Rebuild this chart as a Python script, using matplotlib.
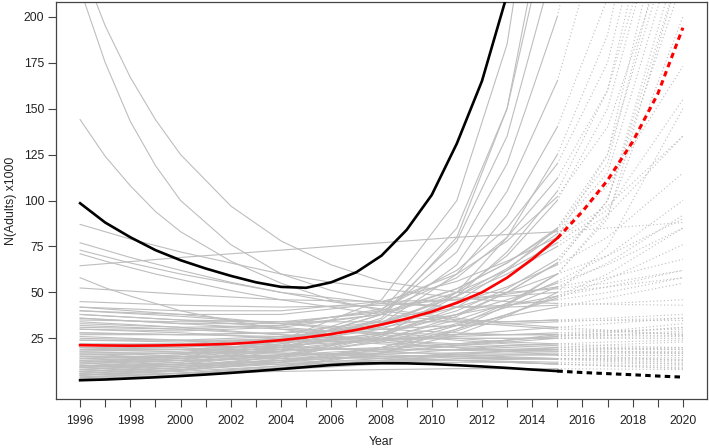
import matplotlib
matplotlib.use("Agg")
import matplotlib.pyplot as plt

plt.rcParams['font.family'] = ['Liberation Sans', 'DejaVu Sans']

# ---- data (N adults x1000) ----
years_obs = list(range(1996, 2016))
years_proj = list(range(2015, 2021))

mean_obs = [21.3, 21.1, 21.0, 21.1, 21.3, 21.6, 22.0, 22.9, 24.0, 25.5, 27.3, 29.6, 32.5,
            35.7, 39.5, 44.3, 50.0, 58.0, 68.0, 79.5]
mean_proj = [79.5, 94.0, 111.0, 132.0, 158.0, 194.0]

upper_obs = [98.5, 88.0, 80.0, 73.0, 67.5, 63.0, 59.0, 55.5, 53.0, 52.5, 55.5, 61.0, 70.0,
             84.0, 103.0, 131.0, 165.0, 212.0, 275.0, 350.0]
upper_proj = [350.0, 440.0, 560.0, 700.0, 880.0, 1100.0]

lower_obs = [2.2, 2.6, 3.2, 3.8, 4.5, 5.3, 6.2, 7.2, 8.3, 9.4, 10.5, 11.2, 11.5,
             11.4, 11.0, 10.4, 9.7, 8.9, 8.0, 7.2]
lower_proj = [7.2, 6.4, 5.8, 5.2, 4.5, 3.9]

# individual trajectories (bulk): values at these years
traj_years = [1996, 2000, 2004, 2008, 2011, 2013, 2015, 2017, 2020]
trajectories = [
    [3, 5, 8, 11, 12, 12, 11, 10.5, 10],
    [4, 6, 9, 12, 14, 14, 14, 14, 13.5],
    [5, 7, 10, 13, 15, 16, 16, 16, 16],
    [6, 8, 11, 14, 17, 18, 19, 19.5, 20],
    [7, 9, 12, 16, 19, 21, 22, 23, 24],
    [3.5, 6, 9, 13, 16, 18, 20, 21.5, 23],
    [8, 10, 13, 17, 21, 24, 26, 28, 31],
    [9, 11, 13, 15, 16, 16, 16, 16, 16],
    [10, 11, 12, 13, 13, 12.5, 12, 11.5, 11],
    [11, 13, 15, 18, 21, 23, 25, 26.5, 29],
    [12, 13, 14, 15, 15, 14.5, 14, 13.5, 13],
    [13, 14, 16, 19, 22, 24, 27, 29, 33],
    [14, 15, 16, 17, 17, 17, 17, 17, 17],
    [15, 15, 15, 14, 13, 12, 11, 10, 9],
    [16, 17, 18, 20, 22, 24, 26, 28, 31],
    [17, 17, 17, 16, 15, 14, 13.5, 12.5, 11],
    [18, 19, 21, 24, 27, 29, 31, 33, 36],
    [19, 19, 19, 19, 19, 19, 19, 19, 19],
    [20, 19, 17, 15, 13, 12, 11, 10, 8.5],
    [22, 21, 20, 19, 18.5, 18, 18, 18, 18],
    [24, 24, 24, 25, 26, 27, 28, 29, 30],
    [26, 24, 21, 18, 16, 15, 14, 13, 12],
    [28, 27, 26, 25, 25, 25, 25, 25.5, 26],
    [30, 28, 25, 22, 20, 19, 18, 17.5, 17],
    [32, 30, 27, 24, 22, 21, 20, 19.5, 19],
    [34, 31, 27, 23, 20, 18, 16, 15, 13],
    [36, 33, 30, 28, 27, 27, 27, 27, 28],
    [38, 35, 31, 27, 24, 22, 21, 20, 19],
    [40, 37, 33, 30, 28, 27, 27, 27, 27],
    [42, 38, 33, 28, 25, 23, 22, 21, 20],
    [5, 6, 7, 8, 8.5, 8.5, 8.5, 8.3, 8],
    [9.5, 10, 11, 12, 13, 13.5, 14, 14.3, 14.5],
    [21, 22, 23, 24, 25, 25, 25, 25, 25],
    [27, 27, 28, 30, 32, 33, 34, 35, 36],
    [35, 34, 34, 34, 34, 34, 35, 35, 35],
    [4, 6, 10, 17, 27, 37, 50, 75, 150],
    [5, 7.5, 12, 20, 32, 44, 60, 92, 200],
    [6, 8, 12, 19, 29, 38, 48, 60, 85],
    [7, 10, 15, 24, 37, 50, 66, 100, 230],
    [8, 11, 16, 26, 42, 58, 80, 125, 300],
    [10, 12, 16, 23, 33, 42, 53, 66, 92],
    [12, 14, 18, 25, 35, 44, 56, 70, 100],
    [14, 16, 20, 28, 40, 52, 68, 100, 220],
    [16, 17, 20, 27, 38, 50, 66, 100, 240],
    [18, 19, 22, 30, 45, 62, 85, 125, 260],
    [20, 20, 23, 32, 50, 70, 100, 150, 300],
    [6, 9, 15, 27, 48, 72, 105, 160, 330],
    [5, 8, 14, 26, 50, 80, 125, 190, 380],
    [8, 11, 18, 33, 60, 92, 140, 210, 420],
    [10, 13, 20, 35, 65, 105, 165, 260, 500],
    [13, 15, 22, 38, 72, 120, 200, 320, 600],
    [11, 14, 21, 38, 78, 135, 235, 380, 700],
    [15, 17, 23, 40, 85, 150, 270, 450, 900],
    [9, 12, 19, 36, 80, 150, 290, 480, 950],
    [22, 22, 25, 34, 48, 60, 75, 92, 135],
    [25, 24, 26, 32, 42, 50, 60, 70, 90],
    [28, 27, 28, 34, 44, 53, 65, 80, 115],
    [30, 29, 31, 38, 52, 66, 84, 115, 250],
    [24, 23, 25, 33, 48, 63, 82, 108, 173],
    [33, 31, 32, 38, 50, 62, 77, 95, 155],
    [38, 35, 34, 39, 52, 66, 85, 120, 280],
    [42, 40, 40, 45, 56, 67, 80, 97, 135],
    [3, 5, 9, 17, 30, 43, 60, 90, 230],
    [7, 9, 13, 20, 30, 38, 47, 57, 76],
    [17, 18, 21, 28, 38, 46, 55, 65, 85],
    [19, 21, 25, 31, 38, 43, 48, 53, 62],
    [12, 15, 19, 25, 32, 37, 42, 47, 55],
    [64.5, 69, 73, 77, 80, 81.5, 83, 85, 88],
    [52.4, 49, 46, 45, 46, 48, 50, 53, 58],
    [45, 43, 42, 43, 46, 49, 53, 58, 68],
    [40, 38, 38, 44, 60, 78, 102, 140, 260],
    [36, 33, 33, 40, 58, 80, 112, 160, 300],
    [31, 30, 32, 41, 62, 85, 120, 175, 340],
    [14, 16, 24, 46, 100, 185, 360, 700, 1500],
]

# trajectories starting high (finer early sampling)
high_years = [1996, 1997, 1998, 1999, 2000, 2002, 2004, 2006, 2008, 2011, 2013, 2015, 2017, 2020]
high_trajectories = [
    [87, 83, 79, 75.5, 72, 66, 60, 55.5, 52, 47, 45, 44, 43.5, 43],
    [77, 73, 69, 65.5, 62, 55.5, 50, 45, 41, 36, 33, 31, 29.5, 27],
    [73, 69.5, 66, 63, 60, 55, 50, 47, 44, 42, 42, 43, 44, 46],
    [71, 67, 63.5, 60, 57, 51, 46, 42, 38, 34, 32, 30, 29, 27],
    [58, 52.5, 48, 44, 40, 34.5, 30, 26.5, 24, 21, 20, 19, 18, 17],
    [215, 175, 143, 119, 100, 76, 60, 51, 45, 42, 43, 46, 50, 58],
    [230, 195, 167, 144, 125, 97, 78, 65, 56, 50, 50, 52, 55, 62],
    [144, 124, 108, 94, 83, 67, 55, 46, 40, 35, 34, 35, 36, 38],
]

x_ticks = list(range(1996, 2021))
x_labels = [str(y) if y % 2 == 0 else '' for y in x_ticks]
y_ticks = [25, 50, 75, 100, 125, 150, 175, 200]

# ---- figure ----
fig = plt.figure(figsize=(7.09, 4.48), dpi=100)
ax = fig.add_axes([56 / 709, 1 - 399 / 448, (707 - 56) / 709, (399 - 2) / 448])

grey = '#bebebe'
dots = (0, (1, 2.2))


def draw_traj(yrs, vals):
    k = yrs.index(2015)
    ax.plot(yrs[:k + 1], vals[:k + 1], color=grey, lw=0.8, zorder=1)
    ax.plot(yrs[k:], vals[k:], color=grey, lw=0.8, linestyle=dots, zorder=1)


for tr in trajectories:
    draw_traj(traj_years, tr)
for tr in high_trajectories:
    draw_traj(high_years, tr)

dash = (0, (1.8, 1.4))
ax.plot(years_obs, mean_obs, color='red', lw=1.9, zorder=3)
ax.plot(years_proj, mean_proj, color='red', lw=2.2, linestyle=dash, zorder=3)
ax.plot(years_obs, upper_obs, color='black', lw=1.9, zorder=3)
ax.plot(years_proj, upper_proj, color='black', lw=2.2, linestyle=dash, zorder=3)
ax.plot(years_obs, lower_obs, color='black', lw=1.9, zorder=3)
ax.plot(years_proj, lower_proj, color='black', lw=2.2, linestyle=dash, zorder=3)

ax.set_xlim(1995.04, 2020.96)
ax.set_ylim(-8, 208)
ax.set_xticks(x_ticks)
ax.set_xticklabels(x_labels)
ax.set_yticks(y_ticks)
ax.set_yticklabels([str(v) for v in y_ticks])

txt = '#222222'
for s in ax.spines.values():
    s.set_color('#444444')
    s.set_linewidth(0.9)
ax.tick_params(axis='both', direction='out', length=5.5, width=0.8, colors='#444444',
               labelcolor=txt, labelsize=8.8)
ax.tick_params(axis='x', pad=6)
ax.tick_params(axis='y', pad=3)

ax.set_xlabel('Year', fontsize=8.8, color=txt, labelpad=6.5)
ax.set_ylabel('N(Adults) x1000', fontsize=8.8, color=txt, labelpad=5)

fig.savefig('out.png', dpi=100)
